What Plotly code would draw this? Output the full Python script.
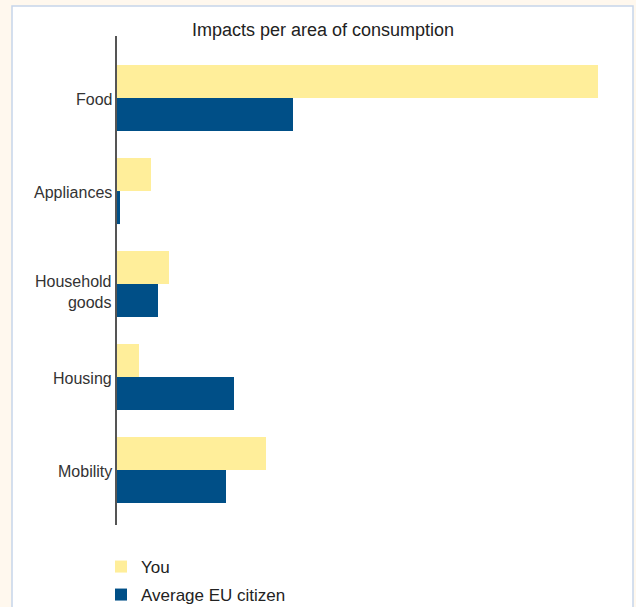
import plotly.graph_objects as go

# Consumption areas and impact scores (arbitrary units)
categories = ["Food", "Appliances", "Household<br>goods", "Housing", "Mobility"]
you_values = [48.1, 3.4, 5.2, 2.2, 14.9]
eu_values = [17.6, 0.3, 4.1, 11.7, 10.9]

YELLOW = "#FFEE9A"
BLUE = "#004F87"
FONT = "Liberation Sans, Arial, sans-serif"

W, H = 636, 607
ML, MR, MT, MB = 117, 16, 36, 82
pw, ph = W - ML - MR, H - MT - MB

fig = go.Figure()
fig.add_trace(go.Bar(
    y=categories, x=you_values, orientation="h", name="You",
    marker=dict(color=YELLOW, line=dict(width=0)), legend="legend",
))
fig.add_trace(go.Bar(
    y=categories, x=eu_values, orientation="h", name="Average EU citizen",
    marker=dict(color=BLUE, line=dict(width=0)), legend="legend2",
))

# white card with a thin blue border on the cream page
fig.add_shape(
    type="rect", xref="paper", yref="paper", layer="below",
    x0=(12 - ML) / pw, x1=(633 - ML) / pw,
    y0=(H - MB - 640) / ph, y1=(H - MB - 6) / ph,
    line=dict(color="#C6D5EA", width=1.5), fillcolor="white",
)

# category labels, right-aligned against the axis
label_font = dict(family=FONT, size=16, color="#333333")
for cat in categories:
    multi = "<br>" in cat
    fig.add_annotation(
        x=0, xref="paper", y=cat, yref="y",
        text=cat, showarrow=False, xanchor="right", yanchor="middle",
        align="right", xshift=-4, yshift=-8 if multi else -1,
        font=label_font, borderpad=0,
    )

legend_style = dict(
    x=(101 - ML) / pw, xanchor="left", yanchor="top",
    font=dict(family=FONT, size=17, color="#222222"),
    bgcolor="rgba(0,0,0,0)", itemwidth=30,
)

fig.update_layout(
    width=W, height=H,
    margin=dict(l=ML, r=MR, t=MT, b=MB, autoexpand=False),
    paper_bgcolor="#FFF8EE",
    plot_bgcolor="rgba(0,0,0,0)",
    barmode="group", bargap=0.29, bargroupgap=0,
    title=dict(
        text="Impacts per area of consumption",
        x=323 / W, xref="container", xanchor="center",
        y=1 - 30 / H, yref="container", yanchor="middle",
        font=dict(family=FONT, size=18, color="#222222"),
    ),
    font=dict(family=FONT, size=16, color="#333333"),
    xaxis=dict(
        range=[0, pw / 10], showgrid=False, zeroline=False,
        showticklabels=False, ticks="", showline=False, fixedrange=True,
    ),
    yaxis=dict(
        type="category", categoryorder="array", categoryarray=categories,
        range=[4.591, -0.667],
        showgrid=False, zeroline=False, ticks="",
        showline=True, linecolor="#555555", linewidth=1.5,
        showticklabels=False,
    ),
    legend=dict(y=(H - MB - 549) / ph, **legend_style),
    legend2=dict(y=(H - MB - 577) / ph, **legend_style),
    showlegend=True,
)

fig.write_html("out.html")
